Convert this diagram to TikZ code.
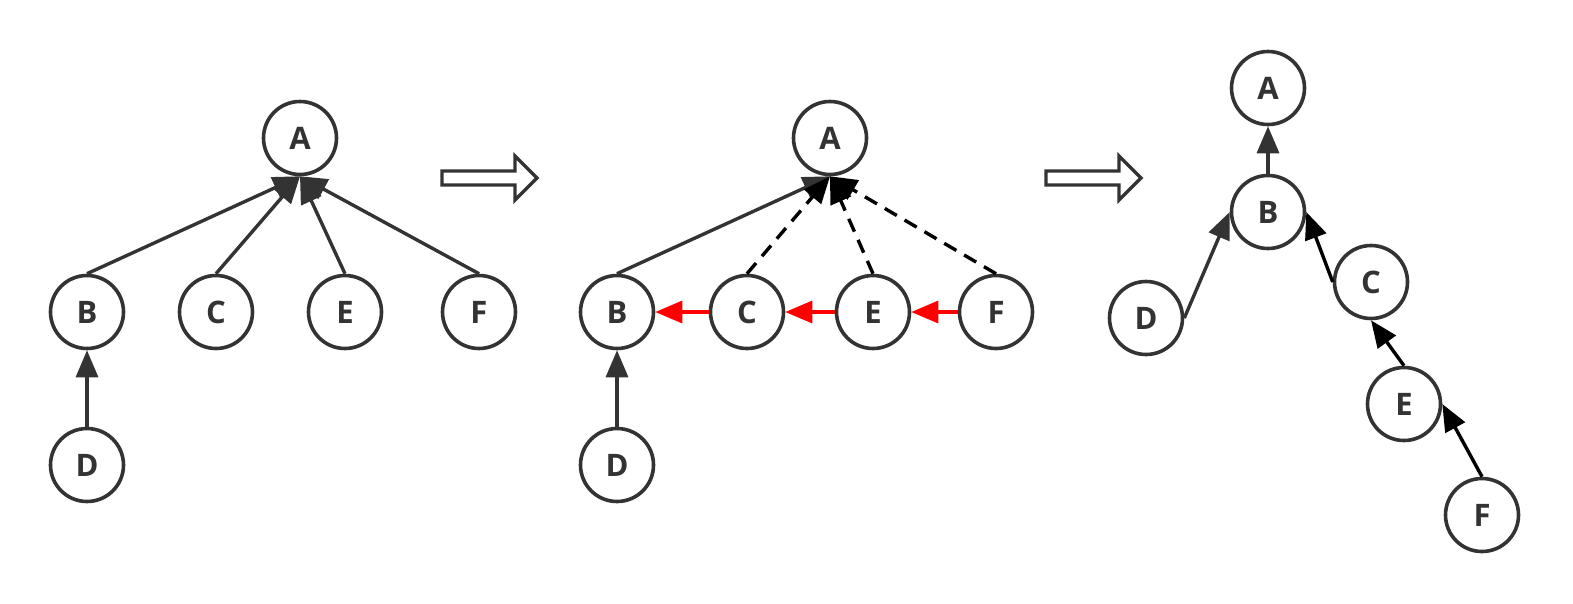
\documentclass[tikz,border=0pt]{standalone}
\usepackage{fontspec}
\setmainfont{Open Sans}
\usetikzlibrary{arrows.meta}
\definecolor{ink}{HTML}{333333}
\tikzset{
  vtx/.style={circle,draw=ink,line width=3.6pt,minimum size=73pt,inner sep=0pt,fill=white,
    text=ink,font=\fontsize{31}{33}\selectfont\bfseries},
  edge/.style={draw=ink,line width=3.4pt,-{Triangle[length=27pt,width=22pt]}},
  dedge/.style={draw=black,line width=3.4pt,dash pattern=on 14pt off 9pt,-{Triangle[length=27pt,width=22pt]}},
  bedge/.style={draw=black,line width=3.4pt,-{Triangle[length=27pt,width=22pt]}},
  redge/.style={draw=red,line width=3.4pt,-{Triangle[length=27pt,width=22pt]}},
  bigarrow/.style={draw=ink,line width=3.4pt,fill=white,line join=miter}
}
\begin{document}
\begin{tikzpicture}[x=1pt,y=-1pt]
\useasboundingbox (0,0) rectangle (1573,603);
% panel 1
\node[vtx] (A1) at (300,138) {A};
\node[vtx] (B1) at (87,312) {B};
\node[vtx] (C1) at (216,312) {C};
\node[vtx] (E1) at (345,312) {E};
\node[vtx] (F1) at (479,312) {F};
\node[vtx] (D1) at (87,465) {D};
\draw[edge] (B1.north) -- (A1.south);
\draw[edge] (C1.north) -- (A1.south);
\draw[edge] (E1.north) -- (A1.south);
\draw[edge] (F1.north) -- (A1.south);
\draw[edge] (D1.north) -- (B1.south);
% hollow arrow 1
\draw[bigarrow] (442,171) -- (515,171) -- (515,156) -- (537,178) -- (515,200) -- (515,185) -- (442,185) -- cycle;
% panel 2
\node[vtx] (A2) at (830,138) {A};
\node[vtx] (B2) at (617,312) {B};
\node[vtx] (C2) at (747,312) {C};
\node[vtx] (E2) at (873,312) {E};
\node[vtx] (F2) at (996,312) {F};
\node[vtx] (D2) at (617,465) {D};
\draw[edge] (B2.north) -- (A2.south);
\draw[dedge] (C2.north) -- (A2.south);
\draw[dedge] (E2.north) -- (A2.south);
\draw[dedge] (F2.north) -- (A2.south);
\draw[edge] (D2.north) -- (B2.south);
\draw[redge] (C2.west) -- (B2.east);
\draw[redge] (E2.west) -- (C2.east);
\draw[redge] (F2.west) -- (E2.east);
% hollow arrow 2
\draw[bigarrow] (1046,171) -- (1119,171) -- (1119,156) -- (1141,178) -- (1119,200) -- (1119,185) -- (1046,185) -- cycle;
% panel 3
\node[vtx] (A3) at (1268,88) {A};
\node[vtx] (B3) at (1268,212) {B};
\node[vtx] (C3) at (1371,282) {C};
\node[vtx] (D3) at (1146,318) {D};
\node[vtx] (E3) at (1404,404) {E};
\node[vtx] (F3) at (1482,515) {F};
\draw[edge] (B3.north) -- (A3.south);
\draw[edge] (D3.east) -- (B3.west);
\draw[bedge] (C3.west) -- (B3.east);
\draw[bedge] (E3.north) -- (C3.south);
\draw[bedge] (F3.north) -- (E3.east);
\end{tikzpicture}
\end{document}
